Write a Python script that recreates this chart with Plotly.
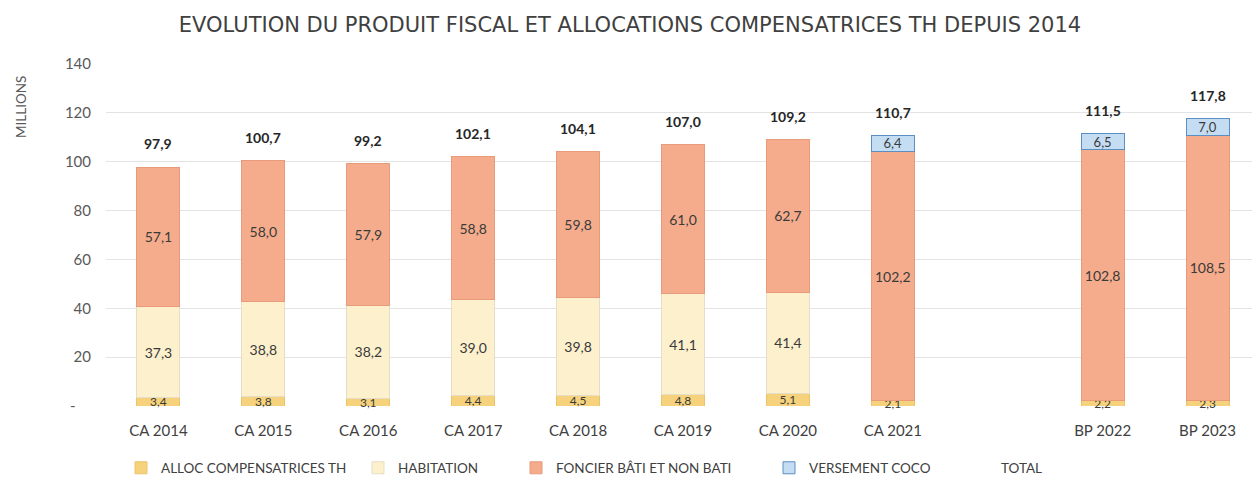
import plotly.graph_objects as go

categories = ["CA 2014", "CA 2015", "CA 2016", "CA 2017", "CA 2018", "CA 2019",
              "CA 2020", "CA 2021", " ", "BP 2022", "BP 2023"]
alloc = [3.4, 3.8, 3.1, 4.4, 4.5, 4.8, 5.1, 2.1, None, 2.2, 2.3]
habitation = [37.3, 38.8, 38.2, 39.0, 39.8, 41.1, 41.4, None, None, None, None]
foncier = [57.1, 58.0, 57.9, 58.8, 59.8, 61.0, 62.7, 102.2, None, 102.8, 108.5]
versement = [None, None, None, None, None, None, None, 6.4, None, 6.5, 7.0]
total = [97.9, 100.7, 99.2, 102.1, 104.1, 107.0, 109.2, 110.7, None, 111.5, 117.8]
y_ticks = [0, 20, 40, 60, 80, 100, 120, 140]
y_ticktext = ["-    ", "20", "40", "60", "80", "100", "120", "140"]

FONT = "Lato"


def fmt(v):
    return "" if v is None else f"{v:.1f}".replace(".", ",")


series = [
    ("ALLOC COMPENSATRICES TH", alloc, "#F6D27C", "#EBC46A", 12, "legend"),
    ("HABITATION", habitation, "#FDF0CD", "#E6DDC6", 14, "legend2"),
    ("FONCIER BÂTI ET NON BATI", foncier, "#F5AC8C", "#E89A7B", 14, "legend3"),
    ("VERSEMENT COCO", versement, "#C5DDF2", "#5B8FC4", 13, "legend4"),
]

fig = go.Figure()
for name, vals, col, line, fs, lg in series:
    fig.add_trace(go.Bar(
        x=categories, y=vals, name=name,
        marker=dict(color=col, line=dict(color=line, width=1)),
        text=[fmt(v) for v in vals], textposition="inside",
        insidetextanchor="middle", constraintext="none", textangle=0,
        textfont=dict(family=FONT, size=fs, color="#3a3a3a"),
        cliponaxis=False,
        legend=lg, hoverinfo="skip",
    ))

fig.add_trace(go.Scatter(
    x=categories, y=total, name="TOTAL", mode="lines",
    line=dict(color="rgba(0,0,0,0)", width=0), legend="legend5",
    hoverinfo="skip",
))

for c, t in zip(categories, total):
    if t is not None:
        fig.add_annotation(x=c, y=t, text=f"<b>{fmt(t)}</b>", showarrow=False,
                           yshift=23, yanchor="middle",
                           font=dict(family=FONT, size=14, color="#262626"))

# page body has an 8px margin: figure coords = screen coords - 8
OFF = 8
FW, FH = 1260 - OFF, 479 - OFF
L, T = 106 - OFF, 64 - OFF
B = FH - (406 - OFF)
W = 1154
R = FW - L - W
PH = FH - T - B

fig.add_annotation(xref="paper", yref="paper", x=(21 - OFF - L) / W,
                   y=(FH - B - (107 - OFF)) / PH,
                   text="MILLIONS", textangle=-90, showarrow=False,
                   xanchor="center", yanchor="middle",
                   font=dict(family=FONT, size=13.5, color="#595959"))

text_starts = [160, 397, 555, 808, 1000]
legend_common = dict(orientation="h", yanchor="middle",
                     y=(FH - B - (468 - OFF)) / PH,
                     xanchor="left",
                     font=dict(family=FONT, size=13.5, color="#404040"),
                     bgcolor="rgba(0,0,0,0)", itemwidth=30)
legs = {}
for i, ts in enumerate(text_starts):
    key = "legend" if i == 0 else f"legend{i+1}"
    legs[key] = dict(legend_common, x=(ts - OFF - 39 - L) / W)

fig.update_layout(
    width=FW, height=FH,
    margin=dict(l=L, r=R, t=T, b=B, autoexpand=False),
    barmode="stack", bargap=0.59,
    separators=", ",
    plot_bgcolor="white", paper_bgcolor="white",
    title=dict(text="EVOLUTION DU PRODUIT FISCAL ET ALLOCATIONS COMPENSATRICES TH DEPUIS 2014",
               x=(630 - OFF) / FW, xref="container", xanchor="center",
               y=1 - (25 - OFF) / FH, yanchor="middle",
               font=dict(family="DejaVu Sans", size=21, color="#404040")),
    xaxis=dict(type="category", categoryorder="array", categoryarray=categories,
               showgrid=False, showline=False, ticks="", automargin=False,
               ticklabelstandoff=14,
               tickfont=dict(family=FONT, size=15, color="#404040")),
    yaxis=dict(range=[0, 140], tickvals=y_ticks, ticktext=y_ticktext,
               showgrid=True, gridcolor="#E3E3E3", gridwidth=1, zeroline=False,
               showline=False, ticklabelstandoff=14, automargin=False,
               tickfont=dict(family=FONT, size=15, color="#595959")),
    showlegend=True,
    **legs,
)

fig.write_html("out.html")
